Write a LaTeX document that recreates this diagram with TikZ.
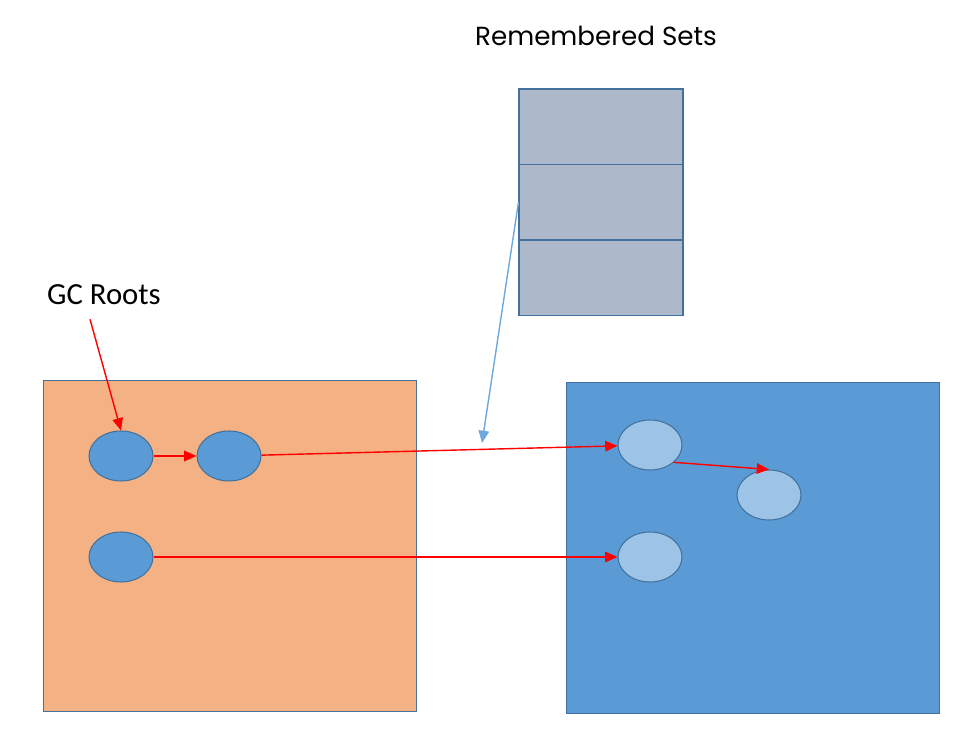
\documentclass[tikz,border=0pt]{standalone}
\usepackage{fontspec}
\setmainfont{Carlito}
\newfontfamily\titlefont{Poppins}
\usetikzlibrary{arrows.meta,shapes.geometric}

\definecolor{oldfill}{HTML}{F4B183}
\definecolor{youngfill}{HTML}{5B9BD5}
\definecolor{edgeblue}{HTML}{41719C}
\definecolor{setfill}{HTML}{ADB9CA}
\definecolor{lightobj}{HTML}{9DC3E6}
\definecolor{pointer}{HTML}{6FA8DC}

\tikzset{
  region/.style={draw=edgeblue, line width=0.6pt, minimum width=7.48cm, minimum height=6.64cm, inner sep=0pt},
  setcell/.style={draw=edgeblue, line width=0.6pt, fill=setfill, minimum width=3.28cm, minimum height=1.51cm, inner sep=0pt},
  obj/.style={ellipse, draw=edgeblue, line width=0.6pt, fill=youngfill, minimum width=1.28cm, minimum height=1cm, inner sep=0pt},
  ref/.style={red, line width=0.8pt, -{Triangle[length=7pt,width=6pt]}},
}

\begin{document}
\begin{tikzpicture}[x=0.02cm, y=-0.02cm]
\useasboundingbox (0,0) rectangle (964,742);

% heap regions
\node[region, fill=oldfill] (old) at (230,546) {};
\node[region, fill=youngfill] (young) at (753,548) {};

% remembered set
\node[font=\titlefont\fontsize{14.9}{18}\selectfont] (rstitle) at (596,36) {Remembered Sets};
\node[setcell] (rs1) at (601,126.75) {};
\node[setcell] (rs2) at (601,202.25) {};
\node[setcell] (rs3) at (601,277.75) {};

% objects
\node[obj] (a) at (121,456) {};
\node[obj] (b) at (229,456) {};
\node[obj] (c) at (121,557) {};
\node[obj, fill=lightobj] (d) at (650,445) {};
\node[obj, fill=lightobj] (e) at (769,495) {};
\node[obj, fill=lightobj] (f) at (650,557) {};

\node[font=\fontsize{17.5}{21}\selectfont] (gc) at (104,295) {GC Roots};
\coordinate (card) at (482,443);

\draw[ref] ([xshift=-0.28cm,yshift=-0.16cm]gc.south) -- (a.north);
\draw[ref] (a) -- (b);
\draw[ref] (b) -- (d);
\draw[ref] (d.-36) -- (e.north);
\draw[ref] (c) -- (f);
\draw[pointer, line width=0.8pt, -{Triangle[length=7pt,width=6pt]}] (rs2.west) -- (card);
\end{tikzpicture}
\end{document}
